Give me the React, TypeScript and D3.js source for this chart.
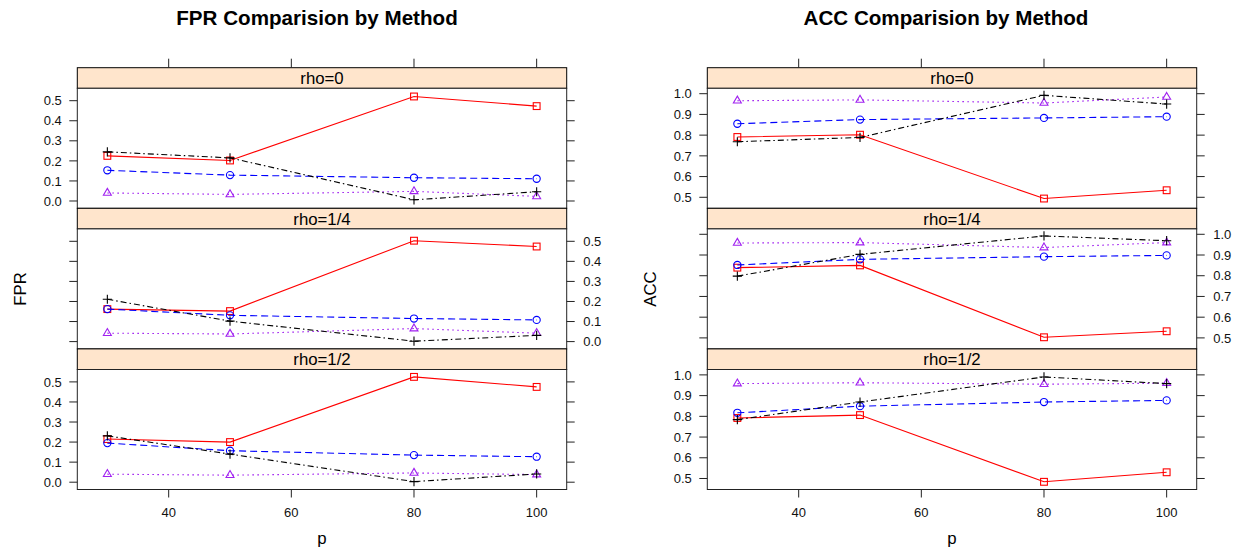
import React from "react";
import * as d3 from "d3";

// ---------- data ----------
const pValues = [30, 50, 80, 100];
const rhoLabels = ["rho=0", "rho=1/4", "rho=1/2"];
const xTicks = [40, 60, 80, 100];
const fprTicks = [0, 0.1, 0.2, 0.3, 0.4, 0.5];
const accTicks = [0.5, 0.6, 0.7, 0.8, 0.9, 1.0];

// rows: rho=0, rho=1/4, rho=1/2 ; columns: p = 30, 50, 80, 100
const fprRed = [
  [0.225, 0.202, 0.521, 0.473],
  [0.162, 0.152, 0.503, 0.474],
  [0.215, 0.2, 0.525, 0.475],
];
const fprBlue = [
  [0.153, 0.129, 0.116, 0.111],
  [0.162, 0.131, 0.115, 0.108],
  [0.195, 0.157, 0.135, 0.127],
];
const fprPurple = [
  [0.04, 0.033, 0.048, 0.023],
  [0.042, 0.038, 0.065, 0.042],
  [0.04, 0.035, 0.046, 0.038],
];
const fprBlack = [
  [0.245, 0.215, 0.006, 0.046],
  [0.211, 0.102, 0.002, 0.031],
  [0.231, 0.14, 0.003, 0.041],
];

const accRed = [
  [0.791, 0.802, 0.494, 0.534],
  [0.839, 0.85, 0.503, 0.532],
  [0.792, 0.806, 0.484, 0.53],
];
const accBlue = [
  [0.855, 0.875, 0.883, 0.889],
  [0.852, 0.879, 0.892, 0.898],
  [0.817, 0.849, 0.869, 0.877],
];
const accPurple = [
  [0.966, 0.97, 0.955, 0.984],
  [0.958, 0.96, 0.936, 0.96],
  [0.958, 0.962, 0.955, 0.96],
];
const accBlack = [
  [0.768, 0.789, 0.992, 0.95],
  [0.798, 0.903, 0.992, 0.969],
  [0.784, 0.869, 0.99, 0.958],
];

// ---------- styles ----------
const styles = [
  { color: "#ff0000", dash: "none", shape: "square" },
  { color: "#0000ff", dash: "7,4", shape: "circle" },
  { color: "#a020f0", dash: "1.6,3.4", shape: "triangle" },
  { color: "#000000", dash: "6,3,1.5,3", shape: "plus" },
];

const FONT = "'Liberation Sans', Arial, Helvetica, sans-serif";
const PANEL_L = 77.3;
const PANEL_W = 489.4;
const TOP = 67.7;
const STRIP_H = 20.6;
const PANEL_H = 120;
const TICK = 8;

function Marker({ shape, x, y, color }: any) {
  const sw = 1.1;
  if (shape === "square") {
    const s = 3.4;
    return <rect x={x - s} y={y - s} width={2 * s} height={2 * s} fill="none" stroke={color} strokeWidth={sw} />;
  }
  if (shape === "circle") {
    return <circle cx={x} cy={y} r={3.6} fill="none" stroke={color} strokeWidth={sw} />;
  }
  if (shape === "triangle") {
    const r = 4.6;
    const d = `M${x},${y - r}L${x + r * 0.866},${y + r * 0.5}L${x - r * 0.866},${y + r * 0.5}Z`;
    return <path d={d} fill="none" stroke={color} strokeWidth={sw} />;
  }
  const s = 4.6;
  return (
    <path d={`M${x - s},${y}H${x + s}M${x},${y - s}V${y + s}`} stroke={color} strokeWidth={sw} fill="none" />
  );
}

function Chart({ ox, title, titleX, ylab, yDomain, yTicks, series }: any) {
  const x = d3.scaleLinear().domain([25.1, 104.9]).range([ox + PANEL_L, ox + PANEL_L + PANEL_W]);
  const left = ox + PANEL_L;
  const right = ox + PANEL_L + PANEL_W;
  const fmt = d3.format(".1f");
  const rows = rhoLabels.map((lab, i) => {
    const sTop = TOP + i * (STRIP_H + PANEL_H);
    const pTop = sTop + STRIP_H;
    const pBot = pTop + PANEL_H;
    const y = d3.scaleLinear().domain(yDomain).range([pBot, pTop]);
    const labelsLeft = i !== 1;
    return (
      <g key={lab}>
        <rect x={left} y={sTop} width={PANEL_W} height={STRIP_H} fill="#ffe5cc" stroke="#000" strokeWidth={1} />
        <text x={(left + right) / 2} y={sTop + 16.2} textAnchor="middle" fontSize={16.8} fontFamily={FONT} fill="#000">
          {lab}
        </text>
        <rect x={left} y={pTop} width={PANEL_W} height={PANEL_H} fill="#fff" />
        {series.map((s: any, k: number) => {
          const st = styles[k];
          const vals: number[] = s[i];
          const line = d3
            .line<number>()
            .x((_, j) => x(pValues[j]))
            .y((v) => y(v));
          return (
            <g key={k}>
              <path d={line(vals) || ""} fill="none" stroke={st.color} strokeWidth={1.1} strokeDasharray={st.dash} />
              {vals.map((v, j) => (
                <Marker key={j} shape={st.shape} x={x(pValues[j])} y={y(v)} color={st.color} />
              ))}
            </g>
          );
        })}
        <rect x={left} y={pTop} width={PANEL_W} height={PANEL_H} fill="none" stroke="#222" strokeWidth={1} />
        {yTicks.map((t: number) => (
          <g key={t}>
            <line x1={left - TICK} x2={left} y1={y(t)} y2={y(t)} stroke="#222" />
            <line x1={right} x2={right + TICK} y1={y(t)} y2={y(t)} stroke="#222" />
            <text
              x={labelsLeft ? left - TICK - 7.5 : right + TICK + 8.5}
              y={y(t)}
              dy="0.36em"
              textAnchor={labelsLeft ? "end" : "start"}
              fontSize={13}
              fontFamily={FONT}
              fill="#111"
            >
              {fmt(t)}
            </text>
          </g>
        ))}
      </g>
    );
  });
  const bottom = TOP + 3 * (STRIP_H + PANEL_H);
  return (
    <g>
      <text x={titleX} y={25} textAnchor="middle" fontSize={20.6} fontWeight="bold" fontFamily={FONT} fill="#000">
        {title}
      </text>
      {rows}
      {xTicks.map((t) => (
        <g key={t}>
          <line x1={x(t)} x2={x(t)} y1={TOP - TICK - 1} y2={TOP} stroke="#222" />
          <line x1={x(t)} x2={x(t)} y1={bottom} y2={bottom + TICK} stroke="#222" />
          <text x={x(t)} y={bottom + 27} textAnchor="middle" fontSize={13} fontFamily={FONT} fill="#111">
            {t}
          </text>
        </g>
      ))}
      <text x={(left + right) / 2} y={543.5} textAnchor="middle" fontSize={16.8} fontFamily={FONT} fill="#000">
        p
      </text>
      <text
        transform={`translate(${ox + 26},289) rotate(-90)`}
        textAnchor="middle"
        fontSize={16.8}
        fontFamily={FONT}
        fill="#000"
      >
        {ylab}
      </text>
    </g>
  );
}

export default function App() {
  return (
    <svg
      width={1244}
      height={552}
      viewBox="0 0 1244 552"
      style={{ position: "absolute", left: 0, top: 0, background: "#fff" }}
    >
      <rect width={1244} height={552} fill="#fff" />
      <Chart
        ox={0}
        title="FPR Comparision by Method"
        titleX={317}
        ylab="FPR"
        yDomain={[-0.0364, 0.5618]}
        yTicks={fprTicks}
        series={[fprRed, fprBlue, fprPurple, fprBlack]}
      />
      <Chart
        ox={630}
        title="ACC Comparision by Method"
        titleX={946}
        ylab="ACC"
        yDomain={[0.4469, 1.026]}
        yTicks={accTicks}
        series={[accRed, accBlue, accPurple, accBlack]}
      />
    </svg>
  );
}
